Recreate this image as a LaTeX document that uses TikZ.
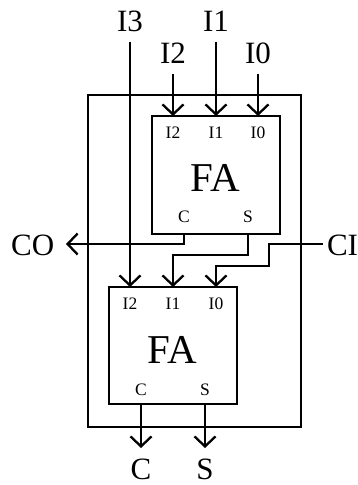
\documentclass[tikz,border=0pt]{standalone}
\usepackage{fontspec}
\setmainfont{Liberation Serif}
\usetikzlibrary{arrows.meta}
\tikzset{
  wire/.style={line width=2.3pt,line join=miter},
  arrowwire/.style={wire,-{Straight Barb[length=10pt,width=21pt,line width=2.3pt]}},
  block/.style={draw,line width=2.3pt,inner sep=0pt,outer sep=0pt,anchor=north west},
  biglabel/.style={anchor=base,inner sep=0pt,font=\fontsize{31}{31}\selectfont},
  portlabel/.style={anchor=base,inner sep=0pt,font=\fontsize{17.5}{17.5}\selectfont},
  fatext/.style={anchor=base,inner sep=0pt,font=\fontsize{41}{41}\selectfont}
}
\begin{document}
\begin{tikzpicture}[x=1pt,y=-1pt]
\useasboundingbox (0,0) rectangle (358,485);
% boxes
\node[block,minimum width=213pt,minimum height=332pt] (outer) at (88,95) {};
\node[block,minimum width=128pt,minimum height=118pt] (faA) at (152,116) {};
\node[block,minimum width=128pt,minimum height=117pt] (faB) at (109,287) {};
% block texts
\node[fatext] (faAt) at (215.5,191.7) {FA};
\node[fatext] (faBt) at (172.5,363) {FA};
\node[portlabel] (a2) at (173,138) {I2};
\node[portlabel] (a1) at (216,138) {I1};
\node[portlabel] (a0) at (258,138) {I0};
\node[portlabel] (ac) at (184,222.7) {C};
\node[portlabel] (as) at (248,222.7) {S};
\node[portlabel] (b2) at (130,309) {I2};
\node[portlabel] (b1) at (173,309) {I1};
\node[portlabel] (b0) at (216,309) {I0};
\node[portlabel] (bc) at (141,395) {C};
\node[portlabel] (bs) at (205,395) {S};
% outer labels
\node[biglabel] (I3) at (130,31.7) {I3};
\node[biglabel] (I1) at (216,31.7) {I1};
\node[biglabel] (I2) at (173,63) {I2};
\node[biglabel] (I0) at (258,63) {I0};
\node[biglabel,anchor=base west] (CO) at (11,255) {CO};
\node[biglabel,anchor=base west] (CI) at (326.8,255) {CI};
\node[biglabel] (C) at (141,479) {C};
\node[biglabel] (S) at (205,479) {S};
% free ends
\coordinate (i3s) at (130,41.7);
\coordinate (i1s) at (216,41.7);
\coordinate (i2s) at (173,74);
\coordinate (i0s) at (258,74);
\coordinate (cos) at (184,234);
\coordinate (coe) at (66,244);
\coordinate (ss) at (248,234);
\coordinate (cis) at (322.7,244);
\coordinate (bcs) at (141,404);
\coordinate (bcE) at (141,448);
\coordinate (bss) at (205,404);
\coordinate (bsE) at (205,448);
% connectors
\draw[arrowwire] (i3s) -- (i3s |- faB.north);
\draw[arrowwire] (i2s) -- (i2s |- faA.north);
\draw[arrowwire] (i1s) -- (i1s |- faA.north);
\draw[arrowwire] (i0s) -- (i0s |- faA.north);
\draw[arrowwire] (cos) |- (coe);
\draw[arrowwire] (ss) -- (248,255) -- (173,255) -- (173,287);
\draw[arrowwire] (cis) -- (269,244) -- (269,266) -- (216,266) -- (216,287);
\draw[arrowwire] (bcs) -- (bcE);
\draw[arrowwire] (bss) -- (bsE);
\end{tikzpicture}
\end{document}
